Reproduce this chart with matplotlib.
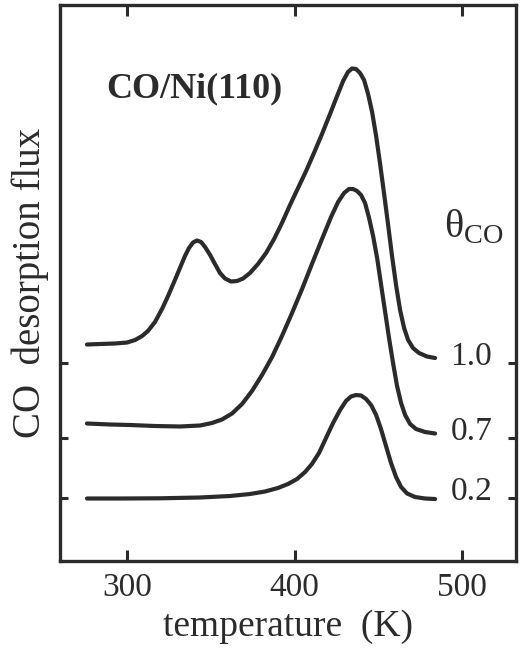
import matplotlib
matplotlib.use("Agg")
import matplotlib.pyplot as plt

# Thermal desorption traces of CO from Ni(110), stacked by initial coverage
temp_10 = [276.1, 283.9, 292.8, 300.0, 304.8, 309.0, 312.5, 316.7, 320.9, 324.5,
           328.1, 331.6, 334.6, 337.0, 339.4, 341.8, 344.2, 346.6, 349.6, 352.5,
           355.5, 358.5, 362.1, 365.7, 369.3, 373.4, 378.2, 383.0, 387.8, 392.5,
           397.3, 402.1, 406.9, 411.6, 416.4, 421.2, 425.4, 429.0, 431.9, 434.3,
           436.7, 439.1, 441.5, 443.9, 446.3, 448.7, 451.0, 453.4, 455.8, 458.2,
           460.6, 463.0, 465.4, 467.8, 470.7, 474.3, 479.1, 483.9]
flux_10 = [2.165, 2.17, 2.175, 2.185, 2.21, 2.25, 2.30, 2.39, 2.52, 2.65,
           2.79, 2.93, 3.05, 3.13, 3.185, 3.205, 3.19, 3.14, 3.06, 2.97,
           2.88, 2.825, 2.795, 2.80, 2.825, 2.88, 2.97, 3.08, 3.22, 3.38,
           3.56, 3.73, 3.90, 4.08, 4.27, 4.47, 4.65, 4.80, 4.89, 4.925,
           4.92, 4.88, 4.81, 4.67, 4.49, 4.25, 3.98, 3.68, 3.37, 3.05,
           2.76, 2.51, 2.33, 2.21, 2.13, 2.08, 2.045, 2.03]

temp_07 = [276.1, 289.9, 301.8, 316.7, 331.6, 343.6, 350.7, 356.7, 362.7, 368.7,
           374.6, 380.6, 386.6, 392.5, 398.5, 404.5, 410.4, 416.4, 421.8, 426.0,
           429.6, 432.5, 434.9, 437.3, 439.7, 442.1, 444.5, 446.9, 449.3, 451.6,
           454.0, 456.4, 458.8, 461.2, 463.6, 466.0, 469.0, 472.5, 477.9, 483.9]
flux_07 = [1.375, 1.365, 1.36, 1.35, 1.345, 1.355, 1.38, 1.415, 1.475, 1.57,
           1.70, 1.86, 2.04, 2.25, 2.48, 2.72, 2.97, 3.22, 3.44, 3.59,
           3.68, 3.72, 3.72, 3.70, 3.66, 3.58, 3.43, 3.25, 3.03, 2.77,
           2.50, 2.23, 1.98, 1.75, 1.58, 1.46, 1.37, 1.32, 1.29, 1.275]

temp_02 = [276.1, 295.8, 319.7, 343.6, 361.5, 373.4, 382.4, 390.1, 396.1, 401.5,
           406.3, 410.4, 414.6, 418.8, 423.0, 427.2, 430.7, 433.7, 436.7, 439.7,
           442.7, 445.7, 448.7, 451.6, 454.6, 457.6, 460.6, 463.6, 467.2, 471.9,
           477.9, 483.9]
flux_02 = [0.625, 0.625, 0.627, 0.635, 0.65, 0.67, 0.695, 0.73, 0.77, 0.82,
           0.89, 0.97, 1.08, 1.23, 1.38, 1.51, 1.60, 1.645, 1.66, 1.655,
           1.62, 1.56, 1.46, 1.32, 1.15, 0.98, 0.84, 0.74, 0.675, 0.64,
           0.625, 0.62]

coverage_labels = ["1.0", "0.7", "0.2"]
label_temp = 505.5
label_flux = [1.96, 1.21, 0.61]
baseline_ticks = [1.985, 1.235, 0.63]
x_ticks = [300, 400, 500]

ink = "#2b2b2b"
plt.rcParams["font.family"] = ["Liberation Serif", "DejaVu Serif"]
plt.rcParams["mathtext.fontset"] = "custom"
plt.rcParams["mathtext.rm"] = "Liberation Serif"

fig = plt.figure(figsize=(5.26, 6.48), dpi=100)
ax = fig.add_axes([60 / 526, 1 - 561 / 648, 456 / 526, 556 / 648])

for t, f in [(temp_10, flux_10), (temp_07, flux_07), (temp_02, flux_02)]:
    ax.plot(t, f, color=ink, lw=3.0, solid_joinstyle="round", solid_capstyle="round")

for lab, yv in zip(coverage_labels, label_flux):
    ax.text(label_temp, yv, lab, ha="center", va="baseline", fontsize=24, color=ink)

ax.set_xlim(260.0, 532.2)
ax.set_ylim(0, 5.56)
ax.set_xticks(x_ticks)
ax.set_xticklabels([str(v) for v in x_ticks])
ax.set_yticks(baseline_ticks)
ax.set_yticklabels([])

ax.tick_params(axis="x", direction="in", top=True, bottom=True, length=8,
               width=2.2, pad=8, labelsize=24, colors=ink)
ax.tick_params(axis="y", direction="in", left=True, right=True, length=6,
               width=2.2, colors=ink)
for sp in ax.spines.values():
    sp.set_linewidth(2.4)
    sp.set_color(ink)

ax.text((194 - 60) / 456, (561 - 89) / 556, "CO/Ni(110)", transform=ax.transAxes,
        ha="center", va="center", fontsize=26, fontweight="bold", color=ink)
ax.text((444 - 60) / 456, 0.60, r"θ$_\mathrm{CO}$", transform=ax.transAxes,
        ha="left", va="center", fontsize=29, color=ink)

ax.text(-0.066, 0.5, "CO  desorption flux", transform=ax.transAxes, rotation=90,
        ha="center", va="center", fontsize=28, color=ink)
fig.text(288 / 526, 1 - 636 / 648, "temperature  (K)", ha="center", va="baseline",
         fontsize=27, color=ink)

fig.savefig("out.png", dpi=100, facecolor="white")
